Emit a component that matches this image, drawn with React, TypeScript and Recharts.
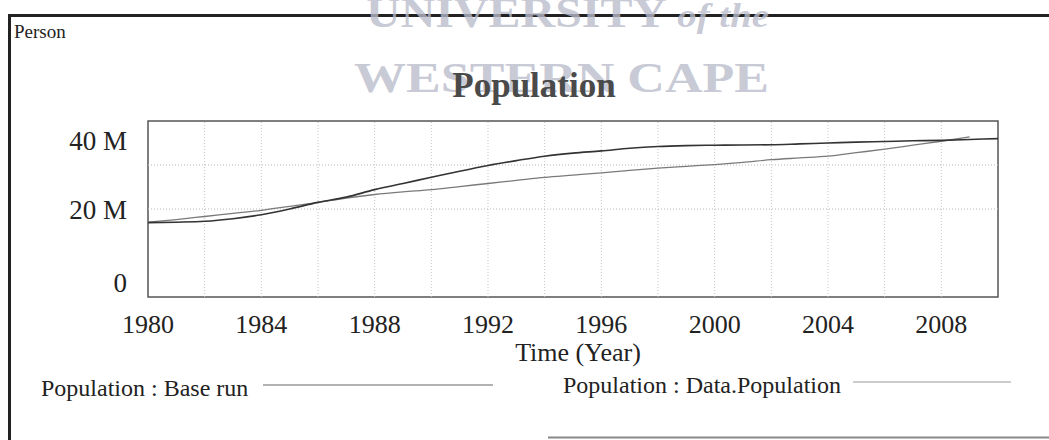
import React from 'react'
import { LineChart, Line, XAxis, YAxis, ReferenceLine, ReferenceArea } from 'recharts'

const years = [
  1980, 1981, 1982, 1983, 1984, 1985, 1986, 1987, 1988, 1989, 1990,
  1991, 1992, 1993, 1994, 1995, 1996, 1997, 1998, 1999, 2000,
  2001, 2002, 2003, 2004, 2005, 2006, 2007, 2008, 2009, 2010,
]

// millions of persons
const baseRun = [
  16.9, 17.0, 17.2, 17.8, 18.7, 20.0, 21.5, 22.7, 24.4, 25.8, 27.2,
  28.6, 29.9, 31.0, 32.0, 32.7, 33.2, 33.8, 34.2, 34.4, 34.5,
  34.55, 34.6, 34.8, 35.0, 35.2, 35.35, 35.5, 35.6, 35.8, 36.0,
]

const dataPopulation = [
  17.0, 17.6, 18.3, 19.0, 19.7, 20.6, 21.5, 22.5, 23.3, 23.9, 24.4,
  25.1, 25.8, 26.5, 27.2, 27.7, 28.2, 28.8, 29.3, 29.7, 30.1,
  30.6, 31.2, 31.6, 32.0, 32.8, 33.6, 34.5, 35.4, 36.4, null,
]

const xTicks = [1980, 1984, 1988, 1992, 1996, 2000, 2004, 2008]
const yTicks = [0, 20, 40]
const gridYears = [1982, 1984, 1986, 1988, 1990, 1992, 1994, 1996, 1998, 2000, 2002, 2004, 2006, 2008]
const gridLevels = [20, 30]

const chartData = years.map((year, i) => ({
  year,
  base: baseRun[i],
  data: dataPopulation[i],
}))

const serif = '"Liberation Serif", "Times New Roman", serif'

const XTick = ({ x, y, payload }: any) => (
  <text x={x} y={y} dy={36} textAnchor="middle" fontFamily={serif} fontSize={26} fill="#222">
    {payload.value}
  </text>
)

// Vensim keeps the end labels inside the plot box
const YTick = ({ x, y, payload }: any) => {
  const v = payload.value
  const shift = v === 40 ? 20 : v === 0 ? -14 : 1
  return (
    <text x={x} y={y + shift} textAnchor="end" dominantBaseline="central" fontFamily={serif} fontSize={27} fill="#222">
      {v === 0 ? '0' : `${v} M`}
    </text>
  )
}

export default function App() {
  return (
    <div style={{ position: 'absolute', left: 0, top: 0, width: 1049, height: 440, background: '#fff' }}>
      <LineChart width={1049} height={440} data={chartData} margin={{ top: 121, right: 51, bottom: 0, left: 0 }}>
        <XAxis
          dataKey="year"
          type="number"
          domain={[1980, 2010]}
          ticks={xTicks}
          axisLine={false}
          tickLine={false}
          tickSize={0}
          tickMargin={0}
          tick={<XTick />}
          height={143}
        />
        <YAxis
          type="number"
          domain={[0, 40]}
          ticks={yTicks}
          axisLine={false}
          tickLine={false}
          tickSize={0}
          tickMargin={21}
          tick={<YTick />}
          width={148}
        />
        {gridYears.map(g => (
          <ReferenceLine key={'v' + g} x={g} stroke="#c4c4c4" strokeDasharray="1 2" />
        ))}
        {gridLevels.map(g => (
          <ReferenceLine key={'h' + g} y={g} stroke="#b8b8b8" strokeDasharray="1 2" />
        ))}
        <ReferenceArea x1={1980} x2={2010} y1={0} y2={40} fill="none" stroke="#555" strokeWidth={1.5} />
        <Line type="monotone" dataKey="data" stroke="#7a7a7a" strokeWidth={1.3} dot={false} isAnimationActive={false} connectNulls={false} />
        <Line type="monotone" dataKey="base" stroke="#333" strokeWidth={1.6} dot={false} isAnimationActive={false} />
      </LineChart>
      <svg width={1049} height={440} style={{ position: 'absolute', left: 0, top: 0, pointerEvents: 'none' }}>
        <line x1={9.5} y1={15} x2={9.5} y2={440} stroke="#222" strokeWidth={3} />
        <line x1={8} y1={15.5} x2={1049} y2={15.5} stroke="#222" strokeWidth={3} />
        <line x1={548} y1={437.5} x2={1049} y2={437.5} stroke="#888" strokeWidth={2} />
        <text x={14} y={38} fontFamily={serif} fontSize={19} fill="#222">Person</text>
        <text x={366} y={27} textLength={403} lengthAdjust="spacingAndGlyphs" fontFamily={serif} fontSize={42} fontWeight="bold" fill="#b9bccb" fillOpacity={0.8}>
          UNIVERSITY <tspan fontStyle="italic" fontSize={34}>of the</tspan>
        </text>
        <text x={354} y={92} textLength={415} lengthAdjust="spacingAndGlyphs" fontFamily={serif} fontSize={42} fontWeight="bold" fill="#b9bccb" fillOpacity={0.8}>
          WESTERN  CAPE
        </text>
        <text x={534} y={97} textAnchor="middle" fontFamily={serif} fontSize={35} fontWeight="bold" fill="#4a4a4a">
          Population
        </text>
        <text x={578} y={361} textAnchor="middle" fontFamily={serif} fontSize={26} fill="#222">Time (Year)</text>
        <text x={41} y={396} fontFamily={serif} fontSize={24} fill="#222">Population : Base run</text>
        <line x1={263} y1={385} x2={493} y2={385} stroke="#666" strokeWidth={1.2} />
        <text x={563} y={393} fontFamily={serif} fontSize={24} fill="#222">Population : Data.Population</text>
        <line x1={853} y1={382} x2={1011} y2={382} stroke="#999" strokeWidth={1.2} />
      </svg>
    </div>
  )
}
